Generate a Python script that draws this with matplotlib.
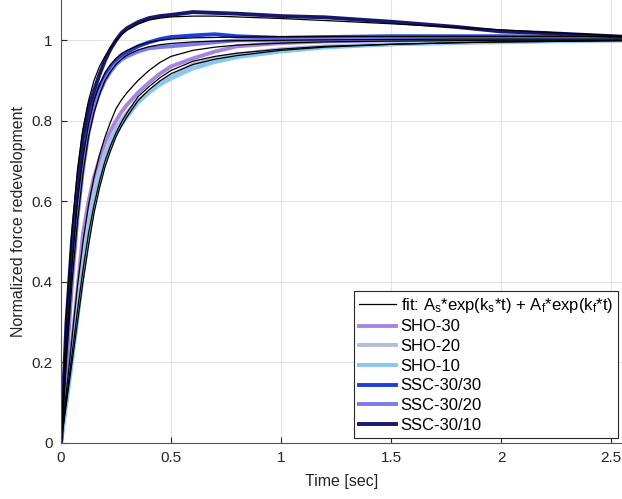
import matplotlib
matplotlib.use("Agg")
import matplotlib.pyplot as plt

plt.rcParams['font.family'] = ['Liberation Sans', 'DejaVu Sans']
plt.rcParams['mathtext.default'] = 'regular'

# time points (s)
t = [0, 0.025, 0.05, 0.075, 0.1, 0.125, 0.15, 0.175, 0.2, 0.225, 0.25, 0.275, 0.3,
     0.35, 0.4, 0.45, 0.5, 0.6, 0.7, 0.8, 1.0, 1.2, 1.5, 1.8, 2.0, 2.2, 2.55]

# measured (normalized) force traces
sho_30 = [0, 0.12, 0.25, 0.38, 0.52, 0.60, 0.66, 0.705, 0.745, 0.775, 0.80, 0.822, 0.84,
          0.87, 0.895, 0.917, 0.935, 0.955, 0.972, 0.985, 0.993, 0.997, 1.0, 1.0, 1.0, 1.0, 1.0]
sho_20 = [0, 0.11, 0.22, 0.34, 0.47, 0.55, 0.62, 0.675, 0.72, 0.752, 0.78, 0.802, 0.82,
          0.85, 0.87, 0.892, 0.91, 0.94, 0.955, 0.965, 0.978, 0.985, 0.99, 0.993, 0.995, 0.997, 1.0]
sho_10 = [0, 0.10, 0.20, 0.31, 0.42, 0.51, 0.60, 0.655, 0.70, 0.737, 0.77, 0.792, 0.81,
          0.845, 0.87, 0.89, 0.905, 0.93, 0.946, 0.958, 0.972, 0.982, 0.99, 0.995, 0.997, 0.998, 1.0]
ssc_30_30 = [0, 0.22, 0.42, 0.58, 0.70, 0.79, 0.85, 0.885, 0.91, 0.932, 0.95, 0.962, 0.97,
             0.985, 0.995, 1.003, 1.008, 1.012, 1.015, 1.01, 1.006, 1.008, 1.01, 1.01, 1.01, 1.009, 1.008]
ssc_30_20 = [0, 0.20, 0.40, 0.56, 0.68, 0.77, 0.83, 0.87, 0.90, 0.922, 0.94, 0.952, 0.96,
             0.972, 0.98, 0.983, 0.985, 0.99, 0.995, 1.0, 1.0, 1.002, 1.005, 1.005, 1.005, 1.005, 1.005]
ssc_30_10 = [0, 0.30, 0.50, 0.64, 0.76, 0.83, 0.875, 0.915, 0.95, 0.978, 1.0, 1.018, 1.03,
             1.045, 1.055, 1.06, 1.063, 1.07, 1.068, 1.066, 1.06, 1.057, 1.046, 1.033, 1.022, 1.018, 1.009]

# double-exponential fits
fit_sho_30 = [0, 0.13, 0.26, 0.39, 0.50, 0.59, 0.66, 0.715, 0.76, 0.797, 0.83, 0.852, 0.87,
              0.90, 0.925, 0.945, 0.96, 0.975, 0.983, 0.988, 0.993, 0.996, 0.998, 0.999, 1.0, 1.0, 1.0]
fit_sho_20 = [0, 0.11, 0.22, 0.33, 0.43, 0.52, 0.59, 0.65, 0.70, 0.738, 0.77, 0.797, 0.82,
              0.86, 0.885, 0.907, 0.925, 0.948, 0.96, 0.968, 0.978, 0.985, 0.99, 0.994, 0.996, 0.997, 0.999]
fit_sho_10 = [0, 0.10, 0.20, 0.30, 0.40, 0.49, 0.57, 0.633, 0.685, 0.725, 0.76, 0.787, 0.81,
              0.85, 0.877, 0.899, 0.917, 0.94, 0.953, 0.962, 0.975, 0.983, 0.99, 0.994, 0.996, 0.997, 0.999]
fit_ssc_30_30 = [0, 0.24, 0.44, 0.60, 0.71, 0.79, 0.85, 0.89, 0.92, 0.94, 0.955, 0.967, 0.975,
                 0.987, 0.995, 1.0, 1.003, 1.006, 1.007, 1.008, 1.009, 1.009, 1.009, 1.009, 1.009, 1.009, 1.009]
fit_ssc_30_20 = [0, 0.21, 0.40, 0.55, 0.67, 0.76, 0.82, 0.865, 0.90, 0.922, 0.94, 0.953, 0.963,
                 0.976, 0.984, 0.989, 0.992, 0.996, 0.998, 0.999, 1.0, 1.001, 1.002, 1.003, 1.003, 1.003, 1.003]
fit_ssc_30_10 = [0, 0.32, 0.53, 0.68, 0.78, 0.85, 0.90, 0.935, 0.96, 0.982, 1.0, 1.014, 1.025,
                 1.04, 1.05, 1.055, 1.058, 1.06, 1.06, 1.058, 1.054, 1.049, 1.041, 1.032, 1.026, 1.02, 1.01]

labels = ['SHO-30', 'SHO-20', 'SHO-10', 'SSC-30/30', 'SSC-30/20', 'SSC-30/10']
colors = ['#a685e2', '#aebfdc', '#86c8f0', '#1c3fdc', '#7b7bf0', '#16186a']
series = [sho_30, sho_20, sho_10, ssc_30_30, ssc_30_20, ssc_30_10]
fits = [fit_sho_30, fit_sho_20, fit_sho_10, fit_ssc_30_30, fit_ssc_30_20, fit_ssc_30_10]

fig = plt.figure(figsize=(6.22, 4.99), dpi=100)
ax = fig.add_axes([61/622, 56/499, 1 - 61/622, 443/499])

data_handles = []
for y, c, lab in zip(series, colors, labels):
    h, = ax.plot(t, y, color=c, lw=2.8, label=lab, solid_joinstyle='round')
    data_handles.append(h)
fit_handle = None
for y in fits:
    fit_handle, = ax.plot(t, y, color='black', lw=0.9)

ax.set_xlim(0, 2.55)
ax.set_ylim(0, 1.1)
ax.set_xticks([0, 0.5, 1, 1.5, 2, 2.5])
ax.set_xticklabels(['0', '0.5', '1', '1.5', '2', '2.5'])
ax.set_yticks([0, 0.2, 0.4, 0.6, 0.8, 1.0])
ax.set_yticklabels(['0', '0.2', '0.4', '0.6', '0.8', '1'])
ax.grid(True, color='#e3e3e3', lw=0.8)
ax.set_axisbelow(True)
ax.tick_params(direction='in', length=4, labelsize=11, colors='#262626', pad=6)
for s in ['left', 'bottom']:
    ax.spines[s].set_color('#555555')
    ax.spines[s].set_linewidth(0.8)
for s in ['top', 'right']:
    ax.spines[s].set_visible(False)

ax.set_xlabel('Time [sec]', fontsize=11.5, color='#262626', labelpad=6)
ax.set_ylabel('Normalized force redevelopment', fontsize=11.5, color='#262626', labelpad=4)

fit_label = 'fit: A$_s$*exp(k$_s$*t) + A$_f$*exp(k$_f$*t)'
leg = ax.legend([fit_handle] + data_handles,
                [fit_label] + labels,
                loc='lower right', bbox_to_anchor=(0.993, 0.012),
                fontsize=12, frameon=True, fancybox=False, edgecolor='#262626',
                framealpha=1, handlelength=2.2, handletextpad=0.3,
                labelspacing=0.28, borderpad=0.3, borderaxespad=0)
leg.get_frame().set_linewidth(0.8)

fig.savefig('out.png', dpi=100)
